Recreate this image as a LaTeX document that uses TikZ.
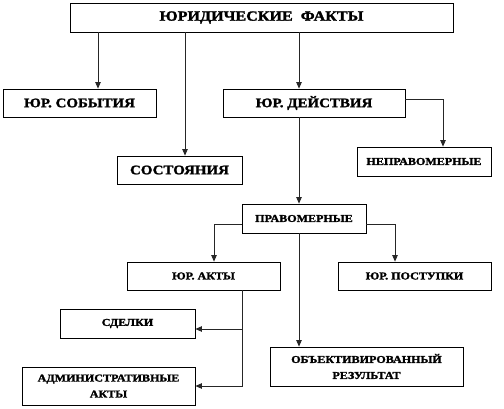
\documentclass[tikz,border=0pt]{standalone}
\usepackage{fontspec}
\setmainfont{Liberation Serif}[FakeStretch=1.15, BoldFeatures={FakeBold=1.8}]
\usetikzlibrary{arrows.meta}
\tikzset{
  box/.style={draw=black, line width=0.8pt, inner sep=0pt, align=center, font=\bfseries\fontsize{10.5}{11}\selectfont},
  bigbox/.style={box, font=\bfseries\fontsize{13}{14}\selectfont},
  conn/.style={draw=black!85, line width=0.8pt},
  arr/.style={conn, -{Triangle[width=5.5pt,length=6.5pt]}}
}
\begin{document}
\begin{tikzpicture}[x=1pt,y=-1pt]
\useasboundingbox (0,0) rectangle (504,408);
% nodes
\node[box, font=\bfseries\fontsize{14}{15}\selectfont, minimum width=383pt, minimum height=29pt] (top) at (261.5,17.5) {ЮРИДИЧЕСКИЕ\ \ ФАКТЫ};
\node[bigbox, minimum width=153pt, minimum height=28pt] (sob) at (79.5,103) {ЮР. СОБЫТИЯ};
\node[bigbox, minimum width=182pt, minimum height=28pt] (dei) at (314,103) {ЮР. ДЕЙСТВИЯ};
\node[bigbox, minimum width=125pt, minimum height=28pt] (sost) at (179.5,170) {СОСТОЯНИЯ};
\node[box, minimum width=134pt, minimum height=29pt] (nepr) at (424,161.5) {НЕПРАВОМЕРНЫЕ};
\node[box, minimum width=124pt, minimum height=29pt] (prav) at (304,218.5) {ПРАВОМЕРНЫЕ};
\node[box, minimum width=153pt, minimum height=28pt] (akty) at (203.5,276) {ЮР. АКТЫ};
\node[box, minimum width=153pt, minimum height=28pt] (post) at (414.5,276) {ЮР. ПОСТУПКИ};
\node[box, minimum width=135pt, minimum height=29pt] (sdel) at (127.5,323.5) {СДЕЛКИ};
\node[box, minimum width=173pt, minimum height=38pt] (adm) at (108.5,386) {АДМИНИСТРАТИВНЫЕ\\[5pt]АКТЫ};
\node[box, minimum width=193pt, minimum height=39pt] (obj) at (366.5,366.5) {ОБЪЕКТИВИРОВАННЫЙ\\[5pt]РЕЗУЛЬТАТ};
% guide coordinates
\coordinate (cA) at (98,0);
\coordinate (cB) at (185,0);
\coordinate (cC) at (299,0);
\coordinate (cD) at (443,0);
\coordinate (cE) at (214,0);
\coordinate (cF) at (395,0);
\coordinate (cG) at (242,0);
\coordinate (yR) at (0,99);
\coordinate (yP) at (0,224);
\coordinate (yS) at (0,329);
\coordinate (yA) at (0,386);
% connectors
\draw[arr] (top.south -| cA) -- (sob.north -| cA);
\draw[arr] (top.south -| cB) -- (sost.north -| cB);
\draw[arr] (top.south -| cC) -- (dei.north -| cC);
\draw[arr] (dei.east |- yR) -| (nepr.north -| cD);
\draw[arr] (dei.south -| cC) -- (prav.north -| cC);
\draw[arr] (prav.west |- yP) -| (akty.north -| cE);
\draw[arr] (prav.east |- yP) -| (post.north -| cF);
\draw[arr] (prav.south -| cC) -- (obj.north -| cC);
\draw[arr] (akty.south -| cG) |- (adm.east |- yA);
\draw[arr] (cG |- yS) -- (sdel.east |- yS);
\end{tikzpicture}
\end{document}
